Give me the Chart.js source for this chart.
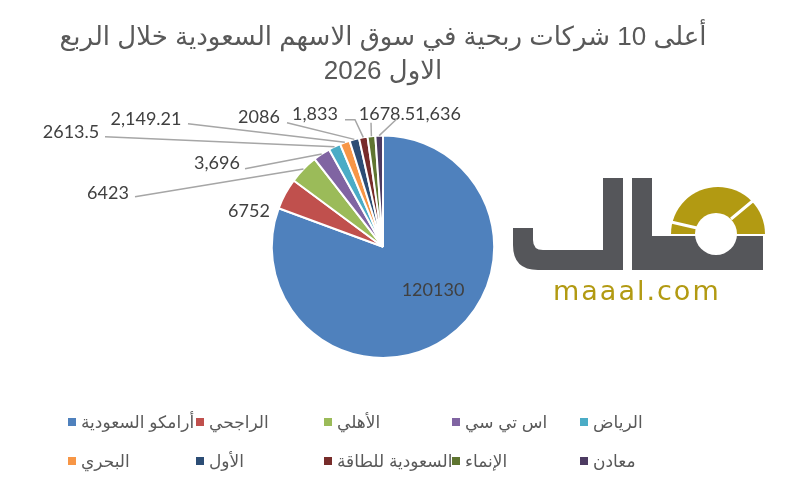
<!DOCTYPE html>
<html>
<head>
<meta charset="utf-8">
<script src="https://cdn.jsdelivr.net/npm/chart.js@4.4.1/dist/chart.umd.min.js"></script>
<style>
  body { margin: 0; background: #fff; }
  #wrap { position: relative; width: 787px; height: 481px; }
  #legend {
    position: absolute; left: 68px; top: 411px;
    display: grid; grid-template-columns: repeat(5, 128px); row-gap: 17px;
  }
  .item { display: flex; align-items: center; height: 22px; white-space: nowrap;
    font: 17px "Liberation Sans", "DejaVu Sans", sans-serif; color: #595959; }
  .box { width: 8px; height: 8px; margin-right: 5px; flex: none; }
</style>
</head>
<body>
<div id="wrap">
  <canvas id="myChart"></canvas>
  <div id="legend"></div>
</div>
<script>
var titleLines = ["أعلى 10 شركات ربحية في سوق الاسهم السعودية خلال الربع", "الاول 2026"];
var companies = ["أرامكو السعودية", "الراجحي", "الأهلي", "اس تي سي", "الرياض",
                 "البحري", "الأول", "السعودية للطاقة", "الإنماء", "معادن"];
var profits = [120130, 6752, 6423, 3696, 2613.5, 2149.21, 2086, 1833, 1678.5, 1636];
// some labels in the original are shown with thousands separators, some without
var withComma = [false, false, false, true, false, true, false, true, false, true];

var colors = ["#4F81BD", "#C0504D", "#9BBB59", "#8064A2", "#4BACC6",
              "#F79646", "#2C4D75", "#772C2A", "#5F7530", "#4D3B62"];

// where each value label sits (text centre, relative to pie centre) and where its leader line starts
var labelSpots = [
  { dx: 50, dy: 43 },
  { dx: -134, dy: -36 },
  { dx: -275, dy: -54, lx: 27, ly: 4 },
  { dx: -166, dy: -84, lx: 28, ly: 6 },
  { dx: -312, dy: -115, lx: 34, ly: 5 },
  { dx: -237, dy: -128, lx: 42, ly: 5 },
  { dx: -124, dy: -130, lx: 28, ly: 6 },
  { dx: -68, dy: -133, lx: 30, ly: 6, elbow: 10 },
  { dx: 4, dy: -133, lx: -16, ly: 9 },
  { dx: 55, dy: -133, lx: -41, ly: 5 }
];

function fmt(i) {
  var v = profits[i];
  return withComma[i] ? v.toLocaleString("en-US") : String(v);
}

// ************ value labels with leader lines ***************
var valueLabels = {
  id: "valueLabels",
  afterDatasetsDraw: function (chart) {
    var ctx = chart.ctx;
    var arcs = chart.getDatasetMeta(0).data;
    ctx.save();
    ctx.font = '18px Lato, "Open Sans", sans-serif';
    ctx.textAlign = "center";
    ctx.textBaseline = "middle";
    arcs.forEach(function (arc, i) {
      var p = arc.getProps(["x", "y", "startAngle", "endAngle", "outerRadius"], true);
      var spot = labelSpots[i];
      var tx = p.x + spot.dx, ty = p.y + spot.dy;
      if (spot.lx !== undefined) {
        var mid = (p.startAngle + p.endAngle) / 2;
        var ex = p.x + Math.cos(mid) * p.outerRadius;
        var ey = p.y + Math.sin(mid) * p.outerRadius;
        ctx.strokeStyle = "#A6A6A6";
        ctx.lineWidth = 1.5;
        ctx.beginPath();
        ctx.moveTo(tx + spot.lx, ty + spot.ly);
        if (spot.elbow) ctx.lineTo(tx + spot.lx + spot.elbow, ty + spot.ly);
        ctx.lineTo(ex, ey);
        ctx.stroke();
      }
      ctx.fillStyle = "#404040";
      ctx.fillText(fmt(i), tx, ty);
    });
    ctx.restore();
  }
};

// ************ maaal watermark ***************
var watermark = {
  id: "watermark",
  beforeDraw: function (chart) {
    var ctx = chart.ctx;
    ctx.save();
    ctx.fillStyle = "#55565A";
    // first letter: bar with a curled foot
    ctx.beginPath();
    ctx.moveTo(513, 228);
    ctx.lineTo(533, 228);
    ctx.lineTo(533, 240);
    ctx.quadraticCurveTo(533, 250, 543, 250);
    ctx.lineTo(603, 250);
    ctx.lineTo(603, 178);
    ctx.lineTo(623, 178);
    ctx.lineTo(623, 270);
    ctx.lineTo(538, 270);
    ctx.quadraticCurveTo(513, 270, 513, 245);
    ctx.closePath();
    ctx.fill();
    // second bar and base
    ctx.fillRect(632, 178, 20, 92);
    ctx.fillRect(652, 236, 111, 34);
    // gold gauge
    ctx.fillStyle = "#B29A12";
    ctx.beginPath();
    ctx.arc(718, 234, 47, Math.PI, 2 * Math.PI);
    ctx.closePath();
    ctx.fill();
    ctx.fillStyle = "#fff";
    ctx.beginPath();
    ctx.arc(716, 234, 21, 0, 2 * Math.PI);
    ctx.fill();
    ctx.strokeStyle = "#fff";
    ctx.lineWidth = 3;
    ctx.beginPath();
    ctx.moveTo(671, 222); ctx.lineTo(697, 228);
    ctx.moveTo(731, 219); ctx.lineTo(755, 199);
    ctx.stroke();
    ctx.fillStyle = "#B29A12";
    ctx.font = '27px "DejaVu Sans", sans-serif';
    ctx.textBaseline = "alphabetic";
    ctx.textAlign = "left";
    if ("letterSpacing" in ctx) ctx.letterSpacing = "2px";
    ctx.fillText("maaal.com", 553, 300);
    ctx.restore();
  }
};

var myChart = document.getElementById("myChart").getContext("2d");
var chart = new Chart(myChart, {
  type: "pie",
  data: {
    labels: companies,
    datasets: [
      {
        data: profits,
        backgroundColor: colors,
        borderColor: "#fff",
        borderWidth: 2,
        hoverOffset: 0
      }
    ]
  },
  options: {
    responsive: true,
    maintainAspectRatio: false,
    animation: false,
    layout: { padding: { left: 0, right: 21, top: 0, bottom: 122 } },
    plugins: {
      legend: { display: false },
      tooltip: { enabled: false },
      title: {
        display: true,
        text: titleLines,
        color: "#595959",
        font: { family: '"Liberation Sans", "DejaVu Sans", sans-serif', size: 26, weight: "normal", lineHeight: 1.3 },
        padding: { top: 21, bottom: 46 }
      }
    }
  },
  plugins: [watermark, valueLabels]
});

// legend, laid out in fixed columns like the original
var legend = document.getElementById("legend");
companies.forEach(function (name, i) {
  var item = document.createElement("div");
  item.className = "item";
  item.innerHTML = '<span class="box" style="background:' + colors[i] + '"></span><span dir="rtl">' + name + "</span>";
  legend.appendChild(item);
});
</script>
</body>
</html>
